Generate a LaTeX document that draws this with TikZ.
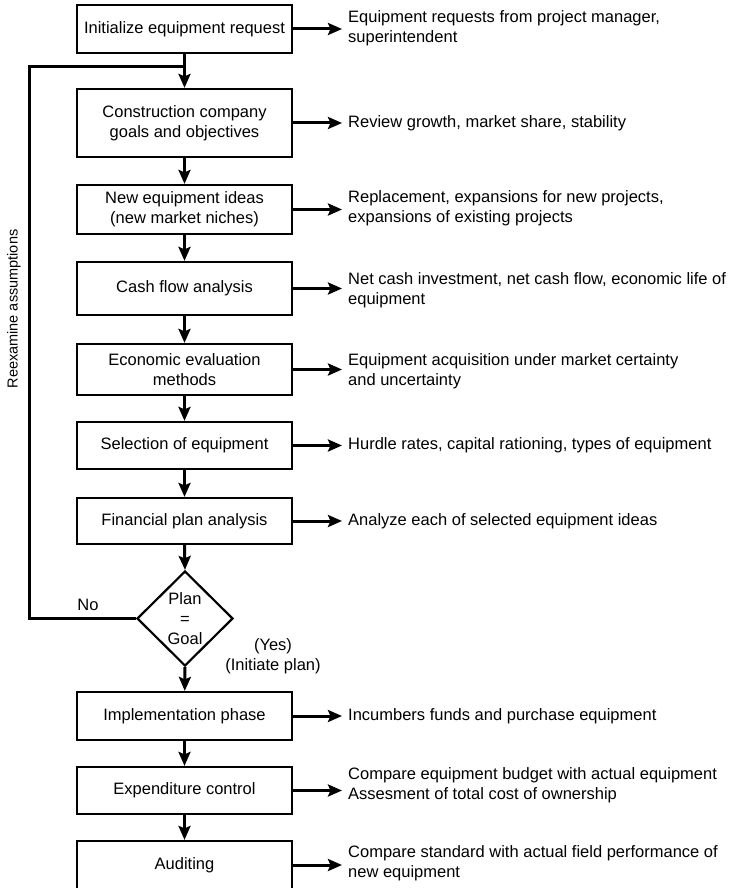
\documentclass[tikz,border=0pt]{standalone}
\usepackage{fontspec}
\setmainfont{Liberation Sans}
\usetikzlibrary{shapes.geometric,arrows.meta}

\tikzset{
  stage/.style={draw, line width=2.2pt, minimum width=215pt, align=center, inner sep=2pt},
  note/.style={anchor=west, align=left, inner sep=0pt},
  flow/.style={line width=3pt, -{Stealth[length=14pt,width=12pt,inset=2.5pt]}},
  feed/.style={line width=3pt, line join=miter},
}

\begin{document}
\begin{tikzpicture}[x=1pt, y=-1pt, font=\fontsize{16.5}{20}\selectfont]
                \useasboundingbox (0,0) rectangle (734,888);
                % main column
                \node[stage, minimum height=48pt] (init) at (184.5,29) {Initialize equipment request};
                \node[stage, minimum height=68pt] (goals) at (184.5,123) {Construction company\\goals and objectives};
                \node[stage, minimum height=49pt] (ideas) at (184.5,209.5) {New equipment ideas\\(new market niches)};
                \node[stage, minimum height=53pt] (cash) at (184.5,288.5) {Cash flow analysis};
                \node[stage, minimum height=51pt] (econ) at (184.5,369.5) {Economic evaluation\\methods};
                \node[stage, minimum height=47pt] (select) at (184.5,445.5) {Selection of equipment};
                \node[stage, minimum height=46pt] (finance) at (184.5,521) {Financial plan analysis};
                \node[diamond, draw, line width=2.2pt, minimum width=96pt, minimum height=95pt, inner sep=0pt, align=center] (check) at (185,618.5) {Plan\\=\\Goal};
                \node[stage, minimum height=48pt] (impl) at (184.5,716) {Implementation phase};
                \node[stage, minimum height=47pt] (control) at (184.5,790.5) {Expenditure control};
                \node[stage, minimum height=48pt] (audit) at (184.5,865) {Auditing};
                % notes on the right
                \node[note] (n1) at (348,28) {Equipment requests from project manager,\\superintendent};
                \node[note] (n2) at (348,123) {Review growth, market share, stability};
                \node[note] (n3) at (348,208) {Replacement, expansions for new projects,\\expansions of existing projects};
                \node[note] (n4) at (348,290) {Net cash investment, net cash flow, economic life of\\equipment};
                \node[note] (n5) at (348,371) {Equipment acquisition under market certainty\\and uncertainty};
                \node[note] (n6) at (348,445.5) {Hurdle rates, capital rationing, types of equipment};
                \node[note] (n7) at (348,521) {Analyze each of selected equipment ideas};
                \node[note] (n9) at (348,716) {Incumbers funds and purchase equipment};
                \node[note] (n10) at (348,785) {Compare equipment budget with actual equipment\\Assesment of total cost of ownership};
                \node[note] (n11) at (348,863) {Compare standard with actual field performance of\\new equipment};
                % labels
                \node (no) at (88,605) {No};
                \node[align=center] (yes) at (273,656) {(Yes)\\(Initiate plan)};
                \node[rotate=90, font=\fontsize{14.5}{17}\selectfont] (reexamine) at (14,309) {Reexamine assumptions};
                % down the column
                \draw[flow] (init) -- (goals);
                \draw[flow] (goals) -- (ideas);
                \draw[flow] (ideas) -- (cash);
                \draw[flow] (cash) -- (econ);
                \draw[flow] (econ) -- (select);
                \draw[flow] (select) -- (finance);
                \draw[flow] (finance.south) -- (check.north);
                \draw[flow] (check.south) -- (impl);
                \draw[flow] (impl) -- (control);
                \draw[flow] (control) -- (audit);
                % loop back
                \coordinate (loop) at (29,67);
                \coordinate (join) at (184.5,67);
                \draw[feed] (check.west) -| (loop) -- (join);
                % arrows to the notes
                \draw[flow, shorten >=6pt] (init.east) -- (init.east -| n1.west);
                \draw[flow, shorten >=6pt] (goals.east) -- (goals.east -| n2.west);
                \draw[flow, shorten >=6pt] (ideas.east) -- (ideas.east -| n3.west);
                \draw[flow, shorten >=6pt] (cash.east) -- (cash.east -| n4.west);
                \draw[flow, shorten >=6pt] (econ.east) -- (econ.east -| n5.west);
                \draw[flow, shorten >=6pt] (select.east) -- (select.east -| n6.west);
                \draw[flow, shorten >=6pt] (finance.east) -- (finance.east -| n7.west);
                \draw[flow, shorten >=6pt] (impl.east) -- (impl.east -| n9.west);
                \draw[flow, shorten >=6pt] (control.east) -- (control.east -| n10.west);
                \draw[flow, shorten >=6pt] (audit.east) -- (audit.east -| n11.west);
\end{tikzpicture}
\end{document}
